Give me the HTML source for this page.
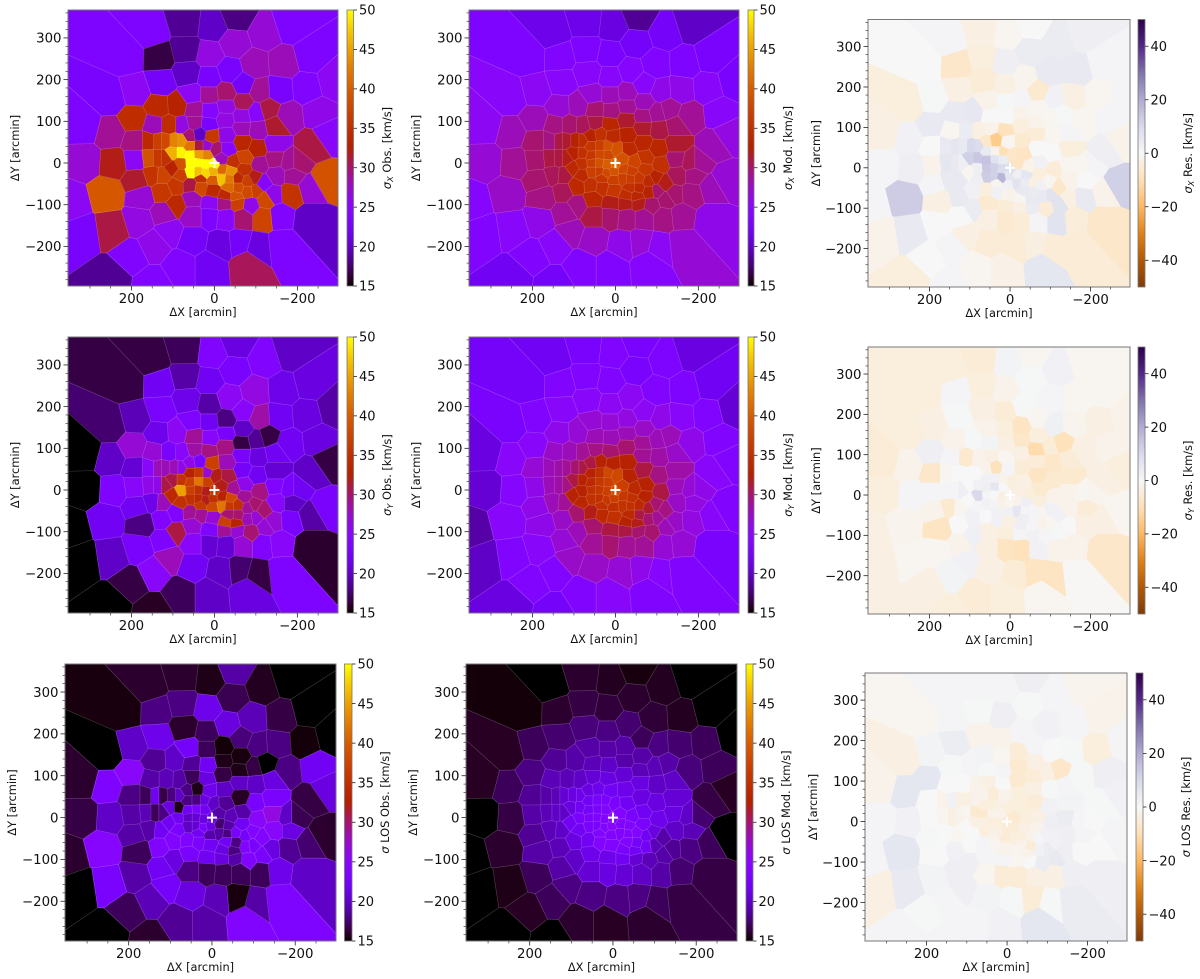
<!DOCTYPE html>
<html lang="en">
<head>
<meta charset="utf-8">
<title>Velocity dispersion maps: observed, model and residual</title>
<style>
html,body{margin:0;padding:0;background:#fff;width:1200px;height:979px;overflow:hidden}
svg{display:block;filter:blur(0.35px)}
text{font-family:"DejaVu Sans","Liberation Sans",sans-serif;fill:#111}
</style>
</head>
<body>
<svg id="figure" xmlns="http://www.w3.org/2000/svg" width="1200" height="979" viewBox="0 0 1200 979"></svg>
<script>
/* Voronoi bin centres in arcmin */
const binX=[208,252,312,310,345,318,248,151,70,4,-54,-121,-183,-231,-286,-165,-97,-48,12,69,133,129,64,12,-36,-69,-109,-156,-222,-250,-274,-264,-234,-177,-202,-230,-230,-161,-183,-141,-156,-117,-123,-99,-117,-67,-86,-56,
149,202,145,81,12,-81,-105,-60,-16,52,109,181,246,258,242,250,193,189,189,185,173,121,91,125,149,125,188,135,89,48,54,12,-28,-69,-28,10,-27,-66,-101,-129,-145,-105,-66,-30,14,48,78,109,145,-145,-103,-67,-32,-109,-145,-181,-149,-189,-73,-46,-71,-56,-81,-81,-56,-97,-27,-24,
10,12,-28,54,52,
93,58,32,32,4,4,-18,-18,-39,-36,-36,-52,-2,19,36,8,36,60,79,97,118,137,157,156,137,118,101,79,60,59,36,19,81,101,81,56,56,39,39,20,0,-16,4,22];
const binY=[257,155,88,4,-94,-170,-273,311,335,327,351,311,331,256,195,239,235,287,259,271,255,191,214,203,219,187,171,174,179,120,68,-40,40,112,0,-60,-134,-197,-73,-76,-124,-128,-88,-65,-48,-128,-100,-96,
-291,-223,-195,-247,-247,-239,-203,-191,-195,-183,-163,-139,-159,-72,0,72,104,52,8,-40,-80,-120,-100,-68,-28,-30,171,135,137,128,163,162,167,145,135,125,104,112,120,128,88,80,84,66,92,96,88,89,89,45,34,48,33,-4,8,0,-28,-28,12,2,-16,-36,-44,-68,-60,-36,-78,-96,
-96,-124,-128,-86,-124,
-54,-52,-36,-57,-40,-64,-36,-16,-20,-38,-58,-80,32,40,40,64,68,64,52,52,52,52,52,12,12,12,24,24,40,18,20,20,-2,-12,-28,0,-20,0,-20,-4,-4,10,-20,-24];

/* Dispersion per bin, km/s */
const sigmaXObs=[23.5,23,23.5,27,25.5,23,18.5,23.5,18.5,20,18,27,23.5,23.5,25.5,28,28,27,26.5,18.5,16.5,22.5,20,23,23,22.5,29,23,24,26,25,39,31,28,30,27,20,23.5,35.5,26,24,37.5,38,37,24.5,30,26,37,
24,24,26,24,22,30.5,21,22.5,21,22.5,25.5,26.5,31,39.5,32,29,34.5,29.5,25.5,31.5,27,28,34,36,35.5,37.5,25.5,34,33,29,25.5,29,30,30.5,26.5,24.5,26.5,26.5,25,31,31.5,28,28,26,23,29,26.5,34.5,28,26,33,33.5,25,29,29.5,29,28,29,37.5,35,35,34,37,38,38.5,32,34,29.5,
25.5,23.5,25,28,27.5,
36,31,35,38,40,34,47,41,44,42,41,39,30,27,31,36,20,30,44,43,38,37,34,39,36,35,46,49.5,42,50,45,43,39,33,37,50,50,50,47,50,50,28,46,48];
const sigmaXMod=[23.5,25,25.5,27,24.5,24,22,21.5,21.5,21,18.5,22.5,20,23,23,23.5,24,22.5,23,23.5,24,25,25,25,24.5,25,26,26,25,25,26.5,27,28,29,29,28,26,27,29.5,30,29,29.5,30,30,32,29,30,32,
22.5,24,25,24,24,24.5,25.5,27,26,27.5,28,26,25,27.5,29,28,28,30,30,30,29.5,29,29.5,30.5,30.5,31,25.5,27,28,30,27,28,28,28,29,29.5,31.5,29.5,29,29,30,31,31.5,33,33.5,31,30.5,30,29.5,31.5,33.5,33.5,34,35,30,30.5,30.5,29.5,35.5,37.5,36,36,34,33,34,33,34.5,32,
32,30,29.5,33.5,31,
34,35,36,35,37,36,37,38,37,36.5,35,33.5,39,39,37,34,35,33,34.5,33,31.5,31,29.5,31,31,32,33,35,36,36,38,38,35,34,34,37,37,39,37,40,41,39,39,38];
const sigmaXRes=[0,-4,-3,1,1,-2,-4,1,-3,-1,0,4,3,1,1,5,5,4,3,-4,-7,-3,-5,-3,-1.5,-6,2,-3,-1,1,-2,12,3,-1,1,-2,-7,-5,5,-3,-4.5,7,7,7,-7,1,-5,4,
1,0,1,-1,-2.5,6,-5,-3.5,-5,-5,-3,0,5,13,3,2,5,0,-2,1,-3,0,4,5,5,5,0.5,5,5.5,0,-2,0.5,1,-1,-2,0,-4,-2,-1,0.5,1,-1,-5,-6,-9,-2,-3,4,-1,-4,0,0,-8,-5,-1,-1,-2,0,2,-2,-4,-3,2,5,4,-1,-1,-3,
-5,-6,-5,-6,-3,
2,-4,-1,2,2,-2,7,3,6,4,5,5,-7,-10,-2,-1,-15,-7,9,10,5,6,5,6,5,3,12,14,5,15,7,4,3,-1,3,14,13,12,12,9,8,-8,6,18];
const sigmaYObs=[16.5,17.5,15,15,15,15,15,16.5,17,24,21,24,20,21,19,21.5,26.5,23,22,19,22,23,21.5,19,25.5,25,28.5,22,21,21,16.5,23,20,22,22,19,16,23.5,23,27,25,24,27,27,30,27,30,27,
15.8,16.5,25,17,20,21,16.5,17.5,20,22,28,23,20,22,23.5,20,27,20.5,25,22,18,23.5,31,24,21.5,28,19.5,21.5,25.5,29,23.5,22,18,20,23,25,29.5,16.5,18.5,16.5,22,21,23,28,29.5,28.5,25,23,27,20.5,22,22.5,31,29.5,24,23,25,20,26,29,29,35,29,28,30,30,37,29,
24,20.5,20.5,27,25,
24,29,36,29,38,27,42,33,38,36,30,33,32,27,36,37,23,26,26,28,28,28,25,26,26,31,31,35.5,33,37,42,37,45,34,35,37,35,35,34,32,36,32,35,32];
const sigmaYMod=[22.5,23,21,20.5,19,20,21,22,23,24,23,23.5,21,22,20.5,23.5,24,23,24,24,24,25,25,25.5,25.5,25.5,26,25,24,24,24,24,25,26,26,25,23,24,26.5,27.5,27,27,28,29,29.5,29,30,30,
22.5,24,24,24,25,24,24.5,26,27,27.5,27.5,25,24,25,24.5,25,25,27,26,26,26,27,28,27.5,28,29,24,26,27,28,27,27,26.5,27.5,28,28,30,29,28,28,27.5,28.5,29,33,30,29.5,29,28,27.5,28.5,29.5,31,33,31,28,27,27.5,26.5,33,34,33,34,31.5,30,31,30,33,31,
31,30,29,30,29,
30,32,35,34,35,35,35.5,36,35,35,34,32,38,38,35,33,33,31,31,30,29,28.5,28,28,28.5,29.5,31,33,33,34,36,37,33,33,33.5,35,35,36,35,37,38.5,37,37,36];
const sigmaYRes=[-4,-4,-5,-4,-3,-3,-3,-4,-5,1.5,-1,2,-1,-1,-2,-1,1,0.5,-2,-4,1,0.5,-3,-5,0.5,-1,2.5,-1.5,-3,-2,-4,-1,-3,-3,-1.5,-3,-7,-0.5,-3,0,-2,-2,0.5,-1,2,2,1,2,
-4,-3,1.5,-5,-4,-1,-8,-8,-5,-3,2,-1,-1,-1.5,1,-2,3,-7,1,-2,-8,-2,2.5,0,-6,-1,-3,-2,0.5,1.5,-2,-4,-8,-4,-7,-3,-3,-11,-5,-9,-5,-7,-5,-5,-1,-3,-2,-6,1,-6,-6,-8,-3,-2,-2,-1,-2,-5,-6,-4,-4,1,-1,-2,1,2,3,1,
-4,-8,-9,-3,-3,
2,0,2,2,2,-3,6,-2,3,1,3,1,-4,-2,2,1,-9,-2,0,0,0,0,-1,1,1,3,0,2,2,3,6,0,10,0,1,1,2,0,1,-3,-1,-3,-1,-2];
const sigmaLosObs=[15.3,15,16,16.5,16,15,15,16,16,15.5,19,15.7,15,15,15,16.5,19.5,16.8,21.5,18,18,21.5,16,17,21,17.8,18,18,15.2,22,21,16,16.5,18,16.8,17.5,20,23.5,18.5,21,21.5,17,23,23,24,17,24,19,
16,17,19.5,18.5,19,24,19,15.3,19.5,21,22.5,19,23,24.5,20,23.5,25,18,19,19,17,22,21,24,19,22,20,18.5,20,18.5,22.5,17,15.2,15.3,15.5,22,16.5,15.5,16.5,15,21,20,20,20,21,17,19,19.5,19,23,23,15.8,18.5,25,26.5,20,25,21,19,19.5,22,23,22.5,24,18,24,21,21,
22,17,17,23,18,
24,23.5,22,23,19,22,19,17.5,19,18,22,18,20,21,18,21.5,15.5,18,20,18,16.5,22,17,19.5,17,18,21,15.5,18,22,23,22,22,22,23,20,20,20.5,20.5,21,21,19,21,23];
const sigmaLosMod=[15.2,15.8,15.8,15,15,15,15,15,16,15.7,15.3,15.7,15,15,15,15.7,16.2,16,16.3,16.5,16,17.5,17.8,18,17.5,17,18,17.5,17,17,15.8,15,16.5,17.8,17.5,17,16.5,16.5,18,18.5,17.5,19,19,19.5,19,20,19.5,20.5,
15,15.8,17,16,15.8,16,17,18,18,18,18,17,15.5,16,16.5,17,18,18.5,19,18.5,19,19,20,19.5,19.5,20,17,18.5,19,19.5,19,19,19,19,19,20,20.5,19.5,19.5,19,20,20,21,21.5,21,20.5,20,19.5,19.5,20.5,21,21,22,21.5,21,20,20,19.5,22,23,23,24,22,22,22.5,21,23,22,
21.5,21,20.5,21.5,20.5,
21,22,24,24,24,24,24,24,24,24,24,22,23,23,23,22,21.5,21,21.5,21,20.5,19.5,19,19.5,20,20,21,22,22,22.5,23,24,23,22,22,23,23,23.5,23,24,25,24,25,24];
const sigmaLosRes=[-1,-3,-2,1,1,-3,1,1,1,1,3,1,-1.5,-2,1,1,2,0.5,3,0.5,1,3.5,-2,-2,1,1,0,0.5,-4,3,2,1,0.5,0.5,0,0,3,4,0,3,3,-3,5,4,2,-3,4,0,
1,0.5,1,1,2,6,0.5,-5,0.5,1.5,3,1.5,5,6,2,6,6,0,0,0.5,0,3,3,2,0,-1,1.5,0.5,1,0.5,1.5,-1,-5,-3,-6,1,-6,-5,-3,-7,1,0.5,-3,-4,0,-3,-2,0,0,1.5,2,-5,-4,3,4,1,3,1,-3,-4,-2,-2,1,2,-5,2,-1,-1,
1,-5,-5,1,-1,
0,1,-2,-1,-5,-2,-4,-5,-3,-4,-2,-2,-4,-3,-4,-2,-5,-2,-2,-3,-3,2,-2,-1,-3,-2,-1,-6,-4,-6,-2,-2,-3,0,0,-3,-4,-4,-3,-4,-5,-6,-5,-3];

/* Tick labels */
const xTickValues=[200,0,-200];
const xMinorValues=[300,250,150,100,50,-50,-100,-150,-250];
const yTickValues=[300,200,100,0,-100,-200];
const dispersionTicks=[15,20,25,30,35,40,45,50];
const residualTicks=[-40,-20,0,20,40];

const NS='http://www.w3.org/2000/svg';
const fig=document.getElementById('figure');
const X_DOMAIN=[353,-298],Y_DOMAIN=[367,-295];
const defs=document.createElementNS(NS,'defs');
fig.appendChild(defs);

function gnuplotMap(t){
  t=Math.max(0,Math.min(1,t));
  const r=Math.sqrt(t),g=t*t*t,b=Math.max(0,Math.sin(2*Math.PI*t));
  return 'rgb('+Math.round(r*255)+','+Math.round(g*255)+','+Math.round(b*255)+')';
}
const PUOR=['#7f3b08','#b35806','#e08214','#fdb863','#fee0b6','#f7f7f7','#d8daeb','#b2abd2','#8073ac','#542788','#2d004b'];
function puorMap(t){
  t=Math.max(0,Math.min(1,t))*10;
  const i=Math.min(9,Math.floor(t)),f=t-i;
  const a=parseInt(PUOR[i].slice(1),16),b=parseInt(PUOR[i+1].slice(1),16);
  const c=s=>Math.round(((a>>s)&255)*(1-f)+((b>>s)&255)*f);
  return 'rgb('+c(16)+','+c(8)+','+c(0)+')';
}
function mk(tag,attrs,parent){
  const el=document.createElementNS(NS,tag);
  for(const k in attrs)el.setAttribute(k,attrs[k]);
  parent.appendChild(el);
  return el;
}
function voronoiCell(i){
  let poly=[[X_DOMAIN[1],Y_DOMAIN[1]],[X_DOMAIN[0],Y_DOMAIN[1]],[X_DOMAIN[0],Y_DOMAIN[0]],[X_DOMAIN[1],Y_DOMAIN[0]]];
  const ax=binX[i],ay=binY[i];
  for(let j=0;j<binX.length&&poly.length;j++){
    if(j===i)continue;
    const nx=binX[j]-ax,ny=binY[j]-ay;
    if(nx===0&&ny===0)continue;
    const d=(binX[j]*binX[j]+binY[j]*binY[j]-ax*ax-ay*ay)/2;
    const out=[];
    for(let k=0;k<poly.length;k++){
      const p=poly[k],q=poly[(k+1)%poly.length];
      const fp=p[0]*nx+p[1]*ny-d,fq=q[0]*nx+q[1]*ny-d;
      if(fp<=0)out.push(p);
      if((fp<0&&fq>0)||(fp>0&&fq<0)){
        const s=fp/(fp-fq);
        out.push([p[0]+s*(q[0]-p[0]),p[1]+s*(q[1]-p[1])]);
      }
    }
    poly=out;
  }
  return poly;
}
const cells=binX.map((_,i)=>voronoiCell(i));

function addLabel(parent,x,y,size,anchor,rotate,parts){
  const t=mk('text',{x:x,y:y,'font-size':size,'text-anchor':anchor},parent);
  if(rotate)t.setAttribute('transform','rotate(-90 '+x+' '+y+')');
  parts.forEach(p=>{
    const s=mk('tspan',{},t);
    s.textContent=p.text;
    if(p.italic)s.setAttribute('font-style','italic');
    if(p.sub){s.setAttribute('font-size',size*0.72);s.setAttribute('dy',2);}
    if(p.after)s.setAttribute('dy',-2);
  });
  return t;
}
function fmt(v){return v<0?'\u2212'+Math.abs(v):String(v);}

function drawPanel(cfg){
  const g=mk('g',{},fig);
  
  
  const sx=v=>cfg.l+(X_DOMAIN[0]-v)/(X_DOMAIN[0]-X_DOMAIN[1])*(cfg.r-cfg.l);
  const sy=v=>cfg.t+(Y_DOMAIN[0]-v)/(Y_DOMAIN[0]-Y_DOMAIN[1])*(cfg.b-cfg.t);
  const colorOf=v=>cfg.res?puorMap((v+50)/100):gnuplotMap((v-15)/35);
  const map=mk('g',{},g);
  
  
  cells.forEach((poly,i)=>{
    if(poly.length<3)return;
    const c=colorOf(cfg.values[i]);
    const el=mk('polygon',{points:poly.map(p=>sx(p[0]).toFixed(2)+','+sy(p[1]).toFixed(2)).join(' '),fill:c,stroke:c,'stroke-width':0.6},map);
    
    
  });
  if(!cfg.res){
    cells.forEach(poly=>{
      if(poly.length<3)return;
      const el=mk('polygon',{points:poly.map(p=>sx(p[0]).toFixed(2)+','+sy(p[1]).toFixed(2)).join(' '),fill:'none',stroke:'rgba(255,255,255,0.13)','stroke-width':0.6},map);
      
      
    });
  }
  const cx=sx(0),cy=sy(0);
  const cross=mk('path',{d:'M'+(cx-5)+' '+cy+'H'+(cx+5)+'M'+cx+' '+(cy-5)+'V'+(cy+5),stroke:'#fff','stroke-width':2,fill:'none'},g);
  
  
  const frame=mk('rect',{x:cfg.l,y:cfg.t,width:cfg.r-cfg.l,height:cfg.b-cfg.t,fill:'none',stroke:'#777','stroke-width':1},g);
  
  

  xTickValues.forEach(v=>{
    const x=sx(v);
    const tick=mk('line',{x1:x,x2:x,y1:cfg.b,y2:cfg.b+4.5,stroke:'#222','stroke-width':0.8},g);
    
    
    const lab=addLabel(g,x,cfg.b+17,13.3,'middle',false,[{text:fmt(v)}]);
    
    
  });
  xMinorValues.forEach(v=>{
    const x=sx(v);
    const tick=mk('line',{x1:x,x2:x,y1:cfg.b,y2:cfg.b+2.5,stroke:'#222','stroke-width':0.6},g);
    
    
  });
  yTickValues.forEach(v=>{
    const y=sy(v);
    const tick=mk('line',{x1:cfg.l-4.5,x2:cfg.l,y1:y,y2:y,stroke:'#222','stroke-width':0.8},g);
    
    
    const lab=addLabel(g,cfg.l-6.5,y+4.8,13.3,'end',false,[{text:fmt(v)}]);
    
    
  });
  for(let v=-280;v<=360;v+=20){
    if(v%100===0)continue;
    const y=sy(v);
    const tick=mk('line',{x1:cfg.l-2.5,x2:cfg.l,y1:y,y2:y,stroke:'#222','stroke-width':0.6},g);
    
    
  }
  const xl=addLabel(g,(cfg.l+cfg.r)/2,cfg.b+30,11.4,'middle',false,[{text:'\u0394X [arcmin]'}]);
  
  
  const yl=addLabel(g,cfg.yLabelX,(cfg.t+cfg.b)/2,11.4,'middle',true,[{text:'\u0394Y [arcmin]'}]);
  
  

  /* colour bar */
  const gid='grad-'+cfg.name;
  const lg=mk('linearGradient',{id:gid,x1:0,y1:1,x2:0,y2:0},defs);
  for(let i=0;i<=60;i++){
    const t=i/60;
    mk('stop',{offset:t,'stop-color':cfg.res?puorMap(t):gnuplotMap(t)},lg);
  }
  const bar=mk('rect',{x:cfg.c0,y:cfg.t,width:cfg.c1-cfg.c0,height:cfg.b-cfg.t,fill:'url(#'+gid+')',stroke:'#777','stroke-width':0.8},g);
  
  
  const cTicks=cfg.res?residualTicks:dispersionTicks;
  const cy2=v=>cfg.res?cfg.b-(v+50)/100*(cfg.b-cfg.t):cfg.b-(v-15)/35*(cfg.b-cfg.t);
  cTicks.forEach(v=>{
    const y=cy2(v);
    const tick=mk('line',{x1:cfg.c1,x2:cfg.c1+3.5,y1:y,y2:y,stroke:'#222','stroke-width':0.8},g);
    
    
    const lab=addLabel(g,cfg.c1+5.5,y+4.7,13,'start',false,[{text:fmt(v)}]);
    
    
  });
  const parts=cfg.sub?[{text:'\u03c3',italic:true},{text:cfg.sub,italic:true,sub:true},{text:' '+cfg.kind+' [km/s]',after:true}]:[{text:'\u03c3',italic:true},{text:' LOS '+cfg.kind+' [km/s]'}];
  const cl=addLabel(g,cfg.cLabelX,(cfg.t+cfg.b)/2,11.4,'middle',true,parts);
  
  
}

drawPanel({name:'sigma-x-observed',values:sigmaXObs,sub:'X',kind:'Obs.',l:68,r:338,t:10,b:286,c0:347,c1:353.5,yLabelX:19,cLabelX:391});
drawPanel({name:'sigma-x-model',values:sigmaXMod,sub:'X',kind:'Mod.',l:469,r:739,t:10,b:286,c0:748,c1:754,yLabelX:420,cLabelX:792});
drawPanel({name:'sigma-x-residual',values:sigmaXRes,sub:'X',kind:'Res.',res:true,l:868,r:1130,t:19.5,b:287,c0:1138,c1:1145,yLabelX:820,cLabelX:1192});
drawPanel({name:'sigma-y-observed',values:sigmaYObs,sub:'Y',kind:'Obs.',l:68,r:338,t:337,b:613,c0:347,c1:353.5,yLabelX:19,cLabelX:391});
drawPanel({name:'sigma-y-model',values:sigmaYMod,sub:'Y',kind:'Mod.',l:469,r:739,t:337,b:613,c0:748,c1:754,yLabelX:420,cLabelX:792});
drawPanel({name:'sigma-y-residual',values:sigmaYRes,sub:'Y',kind:'Res.',res:true,l:868,r:1130,t:347,b:614,c0:1138,c1:1145,yLabelX:820,cLabelX:1192});
drawPanel({name:'sigma-los-observed',values:sigmaLosObs,kind:'Obs.',l:65,r:336,t:664,b:941,c0:344.5,c1:352,yLabelX:16,cLabelX:389});
drawPanel({name:'sigma-los-model',values:sigmaLosMod,kind:'Mod.',l:466,r:737,t:664,b:941,c0:746,c1:753,yLabelX:417,cLabelX:790});
drawPanel({name:'sigma-los-residual',values:sigmaLosRes,kind:'Res.',res:true,l:865,r:1127,t:673,b:941,c0:1136,c1:1143,yLabelX:817,cLabelX:1190});
</script>
</body>
</html>
